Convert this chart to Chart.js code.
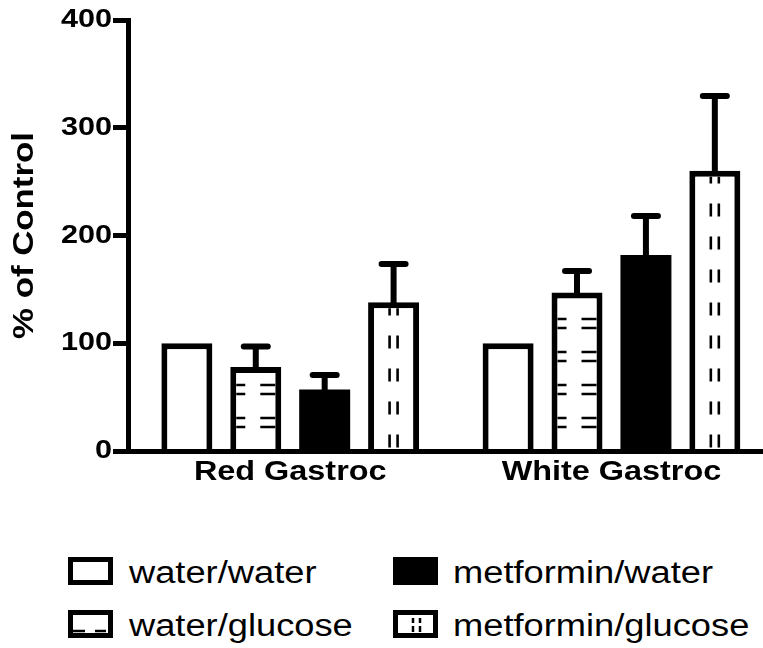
<!DOCTYPE html>
<html>
<head>
<meta charset="utf-8">
<script src="https://cdn.jsdelivr.net/npm/chart.js@4.4.1/dist/chart.umd.min.js"></script>
<style>
  html, body { margin: 0; padding: 0; background: #fff; }
  #wrap { position: relative; width: 763px; height: 648px; overflow: hidden; background: #fff; }
  #chart { position: absolute; left: 0; top: 0; }
  .sw { position: absolute; }
  .lbl {
    position: absolute;
    font-family: "Liberation Sans", Arial, Helvetica, sans-serif;
    font-size: 31px; line-height: 31px; white-space: nowrap; color: #000;
    transform: scaleX(1.17); transform-origin: 0 0;
  }
</style>
</head>
<body>
<div id="wrap">
  <canvas id="chart" width="763" height="520"></canvas>
  <div id="legend"></div>
</div>
<script>
// ---- data ----
const groups = ['Red Gastroc', 'White Gastroc'];
const seriesNames = ['water/water', 'water/glucose', 'metformin/water', 'metformin/glucose'];
const waterWater = [100, 100];
const waterWaterErr = [0, 0];
const waterGlucose = [78, 147];
const waterGlucoseErr = [19, 20];
const metforminWater = [57, 182];
const metforminWaterErr = [13.5, 36];
const metforminGlucose = [138, 260];
const metforminGlucoseErr = [35.5, 69.5];
const yTicks = [0, 100, 200, 300, 400];

const FONT = '"Liberation Sans", Arial, Helvetica, sans-serif';

// wide lettering for the canvas text (axis numbers, group names, axis title)
function widenText(ctx, factor) {
  const fill = ctx.fillText.bind(ctx);
  const measure = ctx.measureText.bind(ctx);
  ctx.fillText = function (text, x, y) {
    this.save();
    this.translate(x, y);
    this.scale(factor, 1);
    fill(text, 0, 0);
    this.restore();
  };
  ctx.measureText = function (text) {
    const m = measure(text);
    return {
      width: m.width * factor,
      actualBoundingBoxAscent: m.actualBoundingBoxAscent,
      actualBoundingBoxDescent: m.actualBoundingBoxDescent,
      actualBoundingBoxLeft: m.actualBoundingBoxLeft * factor,
      actualBoundingBoxRight: m.actualBoundingBoxRight * factor
    };
  };
}

// short horizontal strokes in pairs along both inner edges of a bar
function hDashMarks(ctx, left, base, top) {
  ctx.lineWidth = 2.6;
  ctx.beginPath();
  for (let y0 = base - 23.5; y0 > top - 12; y0 -= 33) {
    for (const yy of [y0, y0 - 9]) {
      ctx.moveTo(left, yy); ctx.lineTo(left + 15, yy);
      ctx.moveTo(left + 30, yy); ctx.lineTo(left + 46, yy);
    }
  }
  ctx.stroke();
}

// two dashed vertical lines down the middle of a bar
function vDashMarks(ctx, cx, base, top) {
  ctx.lineWidth = 2.6;
  ctx.beginPath();
  for (let y0 = base - 3; y0 > top; y0 -= 33) {
    for (const xx of [cx - 4, cx + 4]) {
      ctx.moveTo(xx, y0); ctx.lineTo(xx, y0 - 13);
    }
  }
  ctx.stroke();
}

const BORDER = 6;

const barMarks = {
  id: 'barMarks',
  afterDatasetDraw(chart, args) {
    const ds = chart.data.datasets[args.index];
    if (!ds.marks) return;
    const ctx = chart.ctx;
    args.meta.data.forEach(bar => {
      const { x, y, base, width } = bar.getProps(['x', 'y', 'base', 'width'], true);
      const left = x - width / 2;
      ctx.save();
      ctx.beginPath();
      ctx.rect(left + BORDER, y + BORDER, width - 2 * BORDER, base - y - BORDER);
      ctx.clip();
      ctx.strokeStyle = '#000';
      if (ds.marks === 'h') hDashMarks(ctx, left, base, y);
      else vDashMarks(ctx, x, base, y);
      ctx.restore();
    });
  }
};

// upward error bars (mean + error) with a rounded cap
const errorBars = {
  id: 'errorBars',
  afterDatasetsDraw(chart) {
    const ctx = chart.ctx;
    const yScale = chart.scales.y;
    chart.data.datasets.forEach((ds, di) => {
      const meta = chart.getDatasetMeta(di);
      meta.data.forEach((bar, i) => {
        const err = ds.errors[i];
        if (!err) return;
        const v = ds.data[i].y;
        const yBar = yScale.getPixelForValue(v);
        const yTop = yScale.getPixelForValue(v + err);
        ctx.save();
        ctx.strokeStyle = '#000';
        ctx.lineWidth = 6;
        ctx.lineCap = 'butt';
        ctx.beginPath();
        ctx.moveTo(bar.x, yBar + 2);
        ctx.lineTo(bar.x, yTop);
        ctx.stroke();
        ctx.lineCap = 'round';
        ctx.beginPath();
        ctx.moveTo(bar.x - 12, yTop);
        ctx.lineTo(bar.x + 12, yTop);
        ctx.stroke();
        ctx.restore();
      });
    });
  }
};

const toPoints = arr => arr.map((v, i) => ({ x: i, y: v }));

const datasets = [
  { label: seriesNames[0], data: toPoints(waterWater), errors: waterWaterErr, backgroundColor: '#fff', borderWidth: BORDER, marks: null },
  { label: seriesNames[1], data: toPoints(waterGlucose), errors: waterGlucoseErr, backgroundColor: '#fff', borderWidth: BORDER, marks: 'h' },
  { label: seriesNames[2], data: toPoints(metforminWater), errors: metforminWaterErr, backgroundColor: '#000', borderWidth: 0, marks: null },
  { label: seriesNames[3], data: toPoints(metforminGlucose), errors: metforminGlucoseErr, backgroundColor: '#fff', borderWidth: BORDER, marks: 'v' }
].map(d => Object.assign(d, {
  borderColor: '#000',
  borderSkipped: 'start',
  categoryPercentage: 0.858,
  barPercentage: 0.74
}));

const canvas = document.getElementById('chart');
const ctx = canvas.getContext('2d');
widenText(ctx, 1.2);

new Chart(ctx, {
  type: 'bar',
  data: { datasets },
  options: {
    responsive: false,
    animation: false,
    devicePixelRatio: 1,
    layout: { padding: { top: 20, left: 0, right: 0, bottom: 0 } },
    plugins: { legend: { display: false }, tooltip: { enabled: false } },
    scales: {
      x: {
        type: 'linear',
        offset: false,
        min: -0.505,
        max: 1.4717,
        grid: { display: false, drawTicks: false },
        border: { display: true, color: '#000', width: 5, z: 1 },
        afterBuildTicks: s => { s.ticks = groups.map((g, i) => ({ value: i })); },
        afterFit: s => { s.height = 69; s.paddingLeft = 0; s.paddingRight = 0; },
        ticks: {
          autoSkip: false, maxRotation: 0, minRotation: 0, padding: 5,
          color: '#000',
          font: { family: FONT, size: 27, weight: 'bold' },
          callback: (value, index) => groups[index]
        }
      },
      y: {
        min: yTicks[0],
        max: yTicks[yTicks.length - 1],
        afterBuildTicks: s => { s.ticks = yTicks.map(v => ({ value: v })); },
        afterFit: s => { s.width = 128; s.paddingTop = 0; s.paddingBottom = 0; },
        grid: { display: true, drawOnChartArea: false, drawTicks: true, tickLength: 15, tickWidth: 5, tickColor: '#000' },
        border: { display: true, color: '#000', width: 5 },
        ticks: {
          padding: 1,
          color: '#000',
          font: { family: FONT, size: 25.5, weight: 'bold' }
        },
        title: {
          display: true,
          text: '% of Control',
          color: '#000',
          font: { family: FONT, size: 29, weight: 'bold' },
          padding: { top: 8, bottom: 0 }
        }
      }
    }
  },
  plugins: [barMarks, errorBars]
});

// ---- legend: two columns, two rows ----
function drawSwatch(c, fill, marks) {
  const g = c.getContext('2d');
  const w = c.width, h = c.height;
  g.fillStyle = fill; g.fillRect(0, 0, w, h);
  g.strokeStyle = '#000'; g.lineWidth = 5; g.strokeRect(2.5, 2.5, w - 5, h - 5);
  g.lineWidth = 2.5;
  g.beginPath();
  if (marks === 'h') {
    g.moveTo(5, 21); g.lineTo(17, 21);
    g.moveTo(27, 21); g.lineTo(38, 21);
  } else if (marks === 'v') {
    for (const xx of [20, 27]) {
      g.moveTo(xx, 8); g.lineTo(xx, 13);
      g.moveTo(xx, 16); g.lineTo(xx, 22);
    }
  }
  g.stroke();
}

const legendCols = [68, 393];
const legendRows = [557, 610];
const legendOrder = [0, 2, 1, 3];
const legend = document.getElementById('legend');
legendOrder.forEach((di, k) => {
  const ds = datasets[di];
  const col = k % 2, row = Math.floor(k / 2);
  const sx = legendCols[col], sy = legendRows[row];
  const sw = document.createElement('canvas');
  sw.width = 45; sw.height = 28; sw.className = 'sw';
  sw.style.left = sx + 'px'; sw.style.top = sy + 'px';
  drawSwatch(sw, ds.backgroundColor, ds.marks);
  legend.appendChild(sw);
  const t = document.createElement('span');
  t.className = 'lbl';
  t.textContent = ds.label;
  t.style.left = (sx + (col === 0 ? 61 : 60)) + 'px';
  t.style.top = sy + 'px';
  legend.appendChild(t);
});
</script>
</body>
</html>
